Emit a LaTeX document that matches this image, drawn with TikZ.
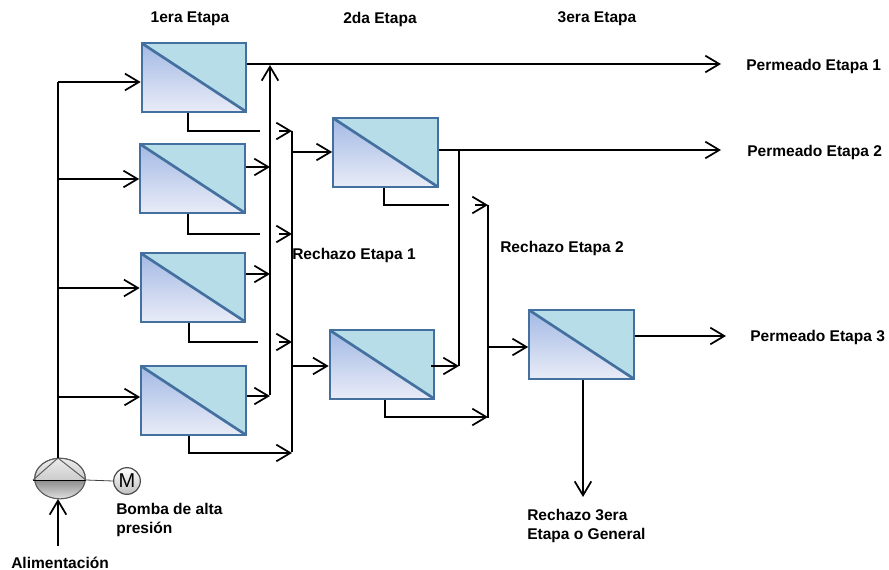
\documentclass[tikz,border=0pt]{standalone}
\usepackage{fontspec}
\setmainfont{Liberation Sans}
\usetikzlibrary{arrows.meta,shadings,shapes.geometric}
\definecolor{teal1}{HTML}{B7DDE8}
\definecolor{blueT}{HTML}{A3B9E4}
\definecolor{blueB}{HTML}{E9ECF7}
\definecolor{edge1}{HTML}{44709F}
\tikzset{
  membrane/.style={draw=edge1,line width=1.5pt,fill=teal1,minimum width=78.5pt,minimum height=51.5pt,inner sep=0pt,
    path picture={
      \shade[top color=blueT,bottom color=blueB] (path picture bounding box.north west)--(path picture bounding box.south east)--(path picture bounding box.south west)--cycle;
      \draw[edge1,line width=2pt] (path picture bounding box.north west)--(path picture bounding box.south east);
    }},
  flow/.style={line width=1.25pt,black},
  arr/.style={flow,-{Straight Barb[length=10.5pt,width=12.5pt,line width=1.3pt]}},
  lab/.style={font=\fontsize{11.65}{14.6}\selectfont\bfseries,text=black,inner sep=0pt,align=left},
}
\begin{document}
\begin{tikzpicture}[x=0.75pt,y=-0.75pt]
\useasboundingbox (0,0) rectangle (889,570);
% membranes
\node[membrane] (a1) at (194,77.5) {};
\node[membrane] (a2) at (192.5,178.5) {};
\node[membrane] (a3) at (193,287.5) {};
\node[membrane] (a4) at (193.5,400.5) {};
\node[membrane] (b1) at (385.5,152.5) {};
\node[membrane] (b2) at (382,364.5) {};
\node[membrane] (c1) at (581.5,344.5) {};
% pump and motor
\node[draw=black!65,line width=0.7pt,ellipse,minimum width=38pt,minimum height=30.5pt,inner sep=0pt,
  top color=black!8,bottom color=black!30] (pump) at (60,478.5) {};
\begin{scope}
\clip (60,478.5) ellipse (25.3 and 20.3);
\shade[top color=black!45,bottom color=black!10] (30,480) rectangle (90,500);
\end{scope}
\draw[black!65,line width=0.7pt] (pump.center) ellipse (25.3 and 20.3);
\node[draw=black!70,line width=0.9pt,circle,minimum size=20pt,inner sep=0pt,top color=white,bottom color=black!25] (motor) at (127,481) {\fontsize{15}{15}\selectfont M};
\coordinate (pl) at (33,480); \coordinate (pr) at (86,480); \coordinate (pa) at (58,458);
\draw[black,line width=0.6pt] (pl)--(pr);
\draw[black!65,line width=0.7pt] (pl)--(pa)--(pr);
\draw[black!75,line width=0.6pt] (pr)--(motor.west);
% feed
\coordinate (feedb) at (58,82);
\draw[flow] (pa)--(feedb);
\draw[arr] (58,546)--(58,499);
\draw[arr] (feedb)--(a1.west |- feedb);
\draw[arr] (58,179)--(a2.west |- 0,179);
\draw[arr] (58,288)--(a3.west |- 0,288);
\draw[arr] (58,397)--(a4.west |- 0,397);
% permeate stage 1
\coordinate (p1bus) at (270,395);
\draw[arr] (p1bus)--(270,65);
\draw[arr] (a1.east |- 0,64)--(721,64);
\draw[arr] (a2.east |- 0,167)--(270,167);
\draw[arr] (a3.east |- 0,274)--(270,274);
\draw[arr] (a4.east |- 0,396)--(270,396);
% reject stage 1
\draw[flow] (292,131)--(292,452);
\draw[flow] (a1.south -| 188,0)--(188,131)--(260,131);
\draw[arr] (279,131)--(292,131);
\draw[flow] (a2.south -| 188,0)--(188,234)--(260,234);
\draw[arr] (279,234)--(292,234);
\draw[flow] (a3.south -| 189,0)--(189,342)--(258,342);
\draw[arr] (279,342)--(292,342);
\draw[arr] (a4.south -| 189,0)--(189,453)--(292,453);
\draw[arr] (292,152)--(b1.west |- 0,152);
\draw[arr] (292,366)--(b2.west |- 0,366);
% stage 2
\draw[arr] (b1.east |- 0,150)--(721,150);
\draw[flow] (459,150)--(459,366);
\draw[arr] (431,366)--(459,366);
\draw[flow] (488,205)--(488,418);
\draw[flow] (b1.south -| 384,0)--(384,205)--(449,205);
\draw[arr] (475,205)--(488,205);
\draw[arr] (b2.south -| 385,0)--(385,417)--(488,417);
\draw[arr] (488,347)--(c1.west |- 0,347);
% stage 3
\draw[arr] (c1.east |- 0,336)--(726,336);
\draw[arr] (c1.south -| 583,0)--(583,497);
% labels
\node[lab] (t1) at (190,19) {1era Etapa};
\node[lab] (t2) at (380,19.5) {2da Etapa};
\node[lab] (t3) at (597,19) {3era Etapa};
\node[lab,anchor=west] (p1) at (746,66) {Permeado Etapa 1};
\node[lab,anchor=west] (p2) at (747,152) {Permeado Etapa 2};
\node[lab,anchor=west] (p3) at (750,337) {Permeado Etapa 3};
\node[lab,anchor=west] (r1) at (292,255) {Rechazo Etapa 1};
\node[lab,anchor=west] (r2) at (500,248) {Rechazo Etapa 2};
\node[lab,anchor=north west] (r3) at (527,509) {Rechazo 3era\\Etapa o General};
\node[lab,anchor=north west] (bm) at (116,502.5) {Bomba de alta\\presión};
\node[lab,anchor=west] (al) at (11,563) {Alimentación};
\end{tikzpicture}
\end{document}
